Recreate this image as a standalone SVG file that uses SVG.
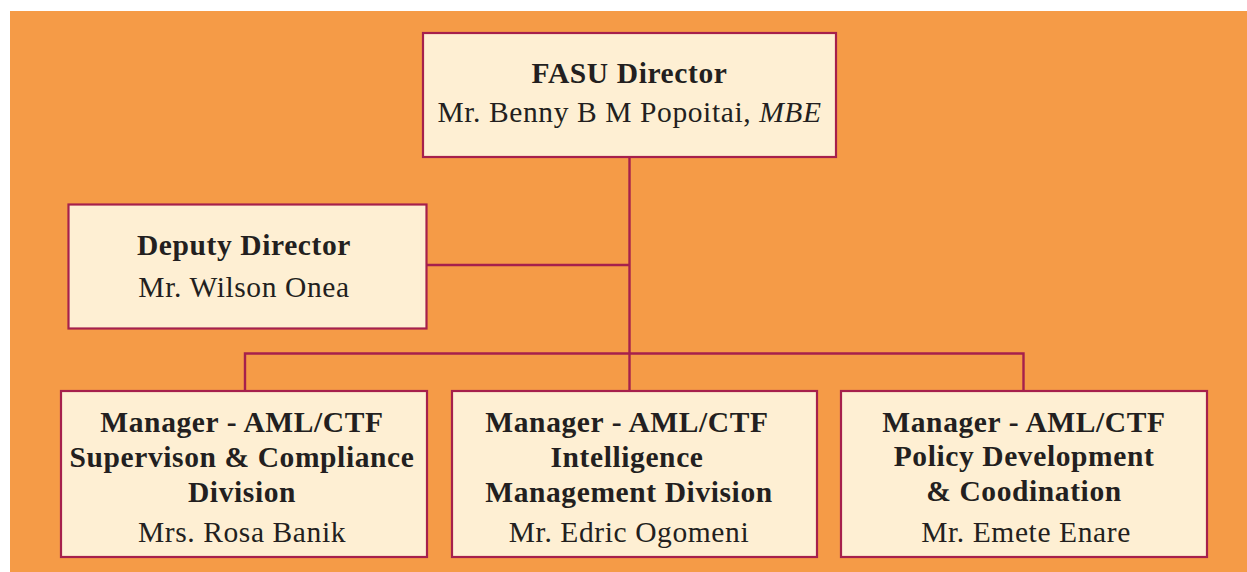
<svg xmlns="http://www.w3.org/2000/svg" width="1247" height="572" viewBox="0 0 1247 572">
<style>
.node rect{fill:#FEEFD3;stroke:#A6204C;stroke-width:2.2}
.conn{fill:none;stroke:#A6204C;stroke-width:2.4}
text{font-family:"Liberation Serif","Times New Roman",serif;fill:#231F20;text-anchor:middle;font-size:29.5px;letter-spacing:0.6px}
.b{font-weight:bold}
</style>
<rect x="10" y="11" width="1237" height="561" fill="#F59B47"/>
<g id="connectors" class="conn">
<path d="M629.5 157V391"/>
<path d="M426 265H629.5"/>
<path d="M245 391V353.5H1023.5V391"/>
</g>
<g id="director" class="node">
<rect x="423" y="33" width="413" height="124"/>
<text class="b" x="629.5" y="83">FASU Director</text>
<text x="629.5" y="122">Mr. Benny B M Popoitai, <tspan font-style="italic">MBE</tspan></text>
</g>
<g id="deputy" class="node">
<rect x="68.5" y="204.5" width="358" height="124"/>
<text class="b" x="244" y="255">Deputy Director</text>
<text x="244" y="297">Mr. Wilson Onea</text>
</g>
<g id="supervision" class="node">
<rect x="61" y="391" width="366" height="166"/>
<text class="b" x="242" y="432">Manager - AML/CTF</text>
<text class="b" x="242" y="467">Supervison &amp; Compliance</text>
<text class="b" x="242" y="502">Division</text>
<text x="242" y="542">Mrs. Rosa Banik</text>
</g>
<g id="intelligence" class="node">
<rect x="452" y="391" width="365" height="166"/>
<text class="b" x="627" y="432">Manager - AML/CTF</text>
<text class="b" x="627" y="467">Intelligence</text>
<text class="b" x="629" y="502">Management Division</text>
<text x="629" y="542">Mr. Edric Ogomeni</text>
</g>
<g id="policy" class="node">
<rect x="841" y="391" width="366" height="166"/>
<text class="b" x="1024" y="432">Manager - AML/CTF</text>
<text class="b" x="1024" y="466">Policy Development</text>
<text class="b" x="1024" y="501">&amp; Coodination</text>
<text x="1026" y="542">Mr. Emete Enare</text>
</g>
</svg>
